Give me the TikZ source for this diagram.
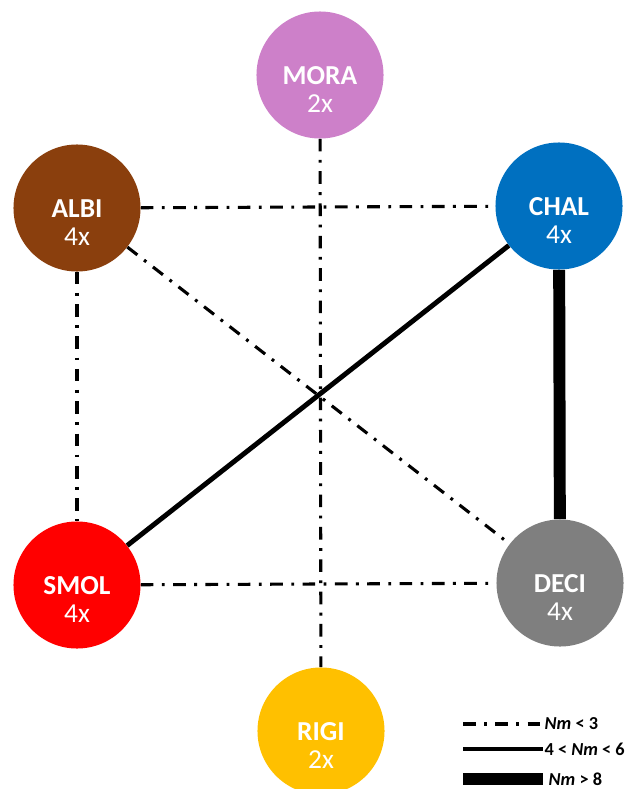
\documentclass[tikz,border=0pt]{standalone}
\usepackage{fontspec}
\setmainfont{Carlito}
\usetikzlibrary{positioning}
\definecolor{mora}{HTML}{CD80C9}
\definecolor{albi}{HTML}{8A3F0D}
\definecolor{chal}{HTML}{0070C0}
\definecolor{smol}{HTML}{FF0000}
\definecolor{deci}{HTML}{7F7F7F}
\definecolor{rigi}{HTML}{FFC000}
\begin{document}
\begin{tikzpicture}[
  x=0.025cm, y=-0.025cm,
  pop/.style={circle, minimum size=3.175cm, inner sep=0pt},
  poplabel/.style={text=white, align=center, yshift=-0.37cm,
                   font=\fontsize{19.5}{20}\selectfont},
  weak/.style={line width=2.2pt, dash pattern=on 9pt off 6pt on 2pt off 6pt},
  medium/.style={line width=3.5pt},
  strong/.style={line width=8.5pt},
  legtext/.style={anchor=west, inner sep=1pt, font=\bfseries\fontsize{13}{15}\selectfont}
]
  \useasboundingbox (0,0) rectangle (631,789);
  \node[pop, fill=mora, label={[poplabel]center:{\textbf{MORA}\\2x}}] (mora) at (320,75) {};
  \node[pop, fill=albi, label={[poplabel]center:{\textbf{ALBI}\\4x}}] (albi) at (77,208) {};
  \node[pop, fill=chal, label={[poplabel]center:{\textbf{CHAL}\\4x}}] (chal) at (559,206) {};
  \node[pop, fill=smol, label={[poplabel]center:{\textbf{SMOL}\\4x}}] (smol) at (77,585) {};
  \node[pop, fill=deci, label={[poplabel]center:{\textbf{DECI}\\4x}}] (deci) at (560,583) {};
  \node[pop, fill=rigi, label={[poplabel]center:{\textbf{RIGI}\\2x}}] (rigi) at (321,731) {};
  \draw[weak] (mora) -- (rigi);
  \draw[weak] (albi) -- (chal);
  \draw[weak] (albi) -- (smol);
  \draw[weak] (albi) -- (deci);
  \draw[weak] (smol) -- (deci);
  \draw[medium] (chal) -- (smol);
  \draw[strong] (chal) -- (deci);
  \coordinate (key1) at (463,724);
  \coordinate (key2) at (463,749);
  \coordinate (key3) at (463,779);
  \coordinate (end3) at (543,779);
  \node[legtext] (txt1) at (543,724) {\textit{Nm} < 3};
  \node[legtext] (txt2) at (543,749) {4 < \textit{Nm} < 6};
  \node[legtext] (txt3) at (547,779) {\textit{Nm} > 8};
  \draw[weak] (key1) -- (txt1.west);
  \draw[medium] (key2) -- (txt2.west);
  \draw[strong] (key3) -- (end3);
\end{tikzpicture}
\end{document}
